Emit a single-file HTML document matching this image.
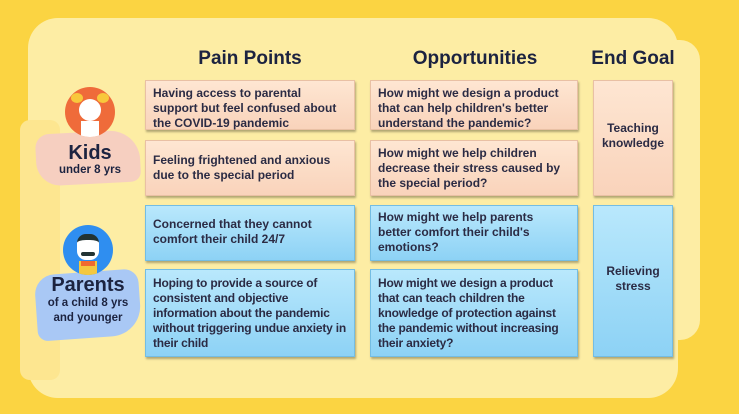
<!DOCTYPE html>
<html><head><style>
*{margin:0;padding:0;box-sizing:border-box}
body{width:739px;height:414px;overflow:hidden;background:#fbd442;font-family:"Liberation Sans",sans-serif;position:relative}
.bg{position:absolute;background:#fdeda4}
.h{position:absolute;top:48px;font-size:19px;font-weight:bold;color:#1c2340;text-align:center}
.b{position:absolute;font-size:12px;font-weight:bold;color:#2b2b44;line-height:15px;padding:5px 7px 3px;box-shadow:1px 2px 2px rgba(0,0,0,.3)}
.p{background:linear-gradient(#fee6d2,#f9d3bb);border:1px solid #e9c0a4}
.u{background:linear-gradient(#b9e8fc,#8dd2f5);border:1px solid #74bde3}
.c{display:flex;align-items:center;justify-content:center;text-align:center}
.lab{position:absolute;text-align:center;color:#1c2340;font-weight:bold}
</style></head><body>
<div class="bg" style="left:28px;top:18px;width:650px;height:380px;border-radius:30px"></div>
<div class="bg" style="left:640px;top:40px;width:60px;height:300px;border-radius:20px"></div>
<div class="bg" style="left:20px;top:120px;width:40px;height:260px;border-radius:10px;background:#fde690"></div>
<div style="position:absolute;left:36px;top:132px;width:104px;height:52px;background:#f6cfc0;border-radius:14px 30px 10px 24px;transform:rotate(-3deg)"></div>
<div style="position:absolute;left:36px;top:272px;width:104px;height:66px;background:#a9c8f5;border-radius:20px 14px 30px 10px;transform:rotate(-4deg)"></div>
<div style="position:absolute;left:65px;top:87px;width:50px;height:50px;border-radius:50%;background:#ef6b3a;overflow:hidden">
 <div style="position:absolute;left:14px;top:12px;width:22px;height:22px;border-radius:50%;background:#fff"></div>
 <div style="position:absolute;left:6px;top:6px;width:12px;height:10px;border-radius:50%;background:#f8c83c"></div>
 <div style="position:absolute;left:32px;top:6px;width:12px;height:10px;border-radius:50%;background:#f8c83c"></div>
 <div style="position:absolute;left:16px;top:34px;width:18px;height:16px;background:#fff"></div>
</div>
<div style="position:absolute;left:63px;top:225px;width:50px;height:50px;border-radius:50%;background:#2f8ef0;overflow:hidden">
 <div style="position:absolute;left:14px;top:9px;width:22px;height:26px;border-radius:9px;background:#fff;border-top:6px solid #233"></div>
 <div style="position:absolute;left:18px;top:27px;width:14px;height:4px;border-radius:2px;background:#233"></div>
 <div style="position:absolute;left:16px;top:36px;width:18px;height:14px;background:#f4c840"></div>
 <div style="position:absolute;left:18px;top:36px;width:14px;height:5px;background:#f06a30"></div>
</div>
<div class="lab" style="left:40px;top:142px;width:100px;font-size:20px">Kids</div>
<div class="lab" style="left:40px;top:164px;width:100px;font-size:11.5px">under 8 yrs</div>
<div class="lab" style="left:38px;top:274px;width:100px;font-size:20px">Parents</div>
<div class="lab" style="left:38px;top:296px;width:100px;font-size:11.5px;line-height:15px">of a child 8 yrs<br>and younger</div>
<div class="h" style="left:145px;width:210px">Pain Points</div>
<div class="h" style="left:370px;width:210px">Opportunities</div>
<div class="h" style="left:588px;width:90px">End Goal</div>
<div class="b p" style="left:145px;top:80px;width:210px;height:50px">Having access to parental support but feel confused about the COVID-19 pandemic</div>
<div class="b p" style="left:145px;top:140px;width:210px;height:56px;padding-top:12px">Feeling frightened and anxious due to the special period</div>
<div class="b u" style="left:145px;top:205px;width:210px;height:56px;padding-top:11px">Concerned that they cannot comfort their child 24/7</div>
<div class="b u" style="left:145px;top:269px;width:210px;height:88px;padding-top:6px;letter-spacing:-0.2px">Hoping to provide a source of consistent and objective information about the pandemic without triggering undue anxiety in their child</div>
<div class="b p" style="left:370px;top:80px;width:208px;height:50px">How might we design a product that can help children's better understand the pandemic?</div>
<div class="b p" style="left:370px;top:140px;width:208px;height:56px;padding-top:5px">How might we help children decrease their stress caused by the special period?</div>
<div class="b u" style="left:370px;top:205px;width:208px;height:56px;padding-top:4px">How might we help parents better comfort their child's emotions?</div>
<div class="b u" style="left:370px;top:269px;width:208px;height:88px;padding-top:6px;letter-spacing:-0.2px">How might we design a product that can teach children the knowledge of protection against the pandemic without increasing their anxiety?</div>
<div class="b p c" style="left:593px;top:80px;width:80px;height:116px;padding-bottom:10px">Teaching knowledge</div>
<div class="b u c" style="left:593px;top:205px;width:80px;height:152px;padding-bottom:10px">Relieving stress</div>
</body></html>
